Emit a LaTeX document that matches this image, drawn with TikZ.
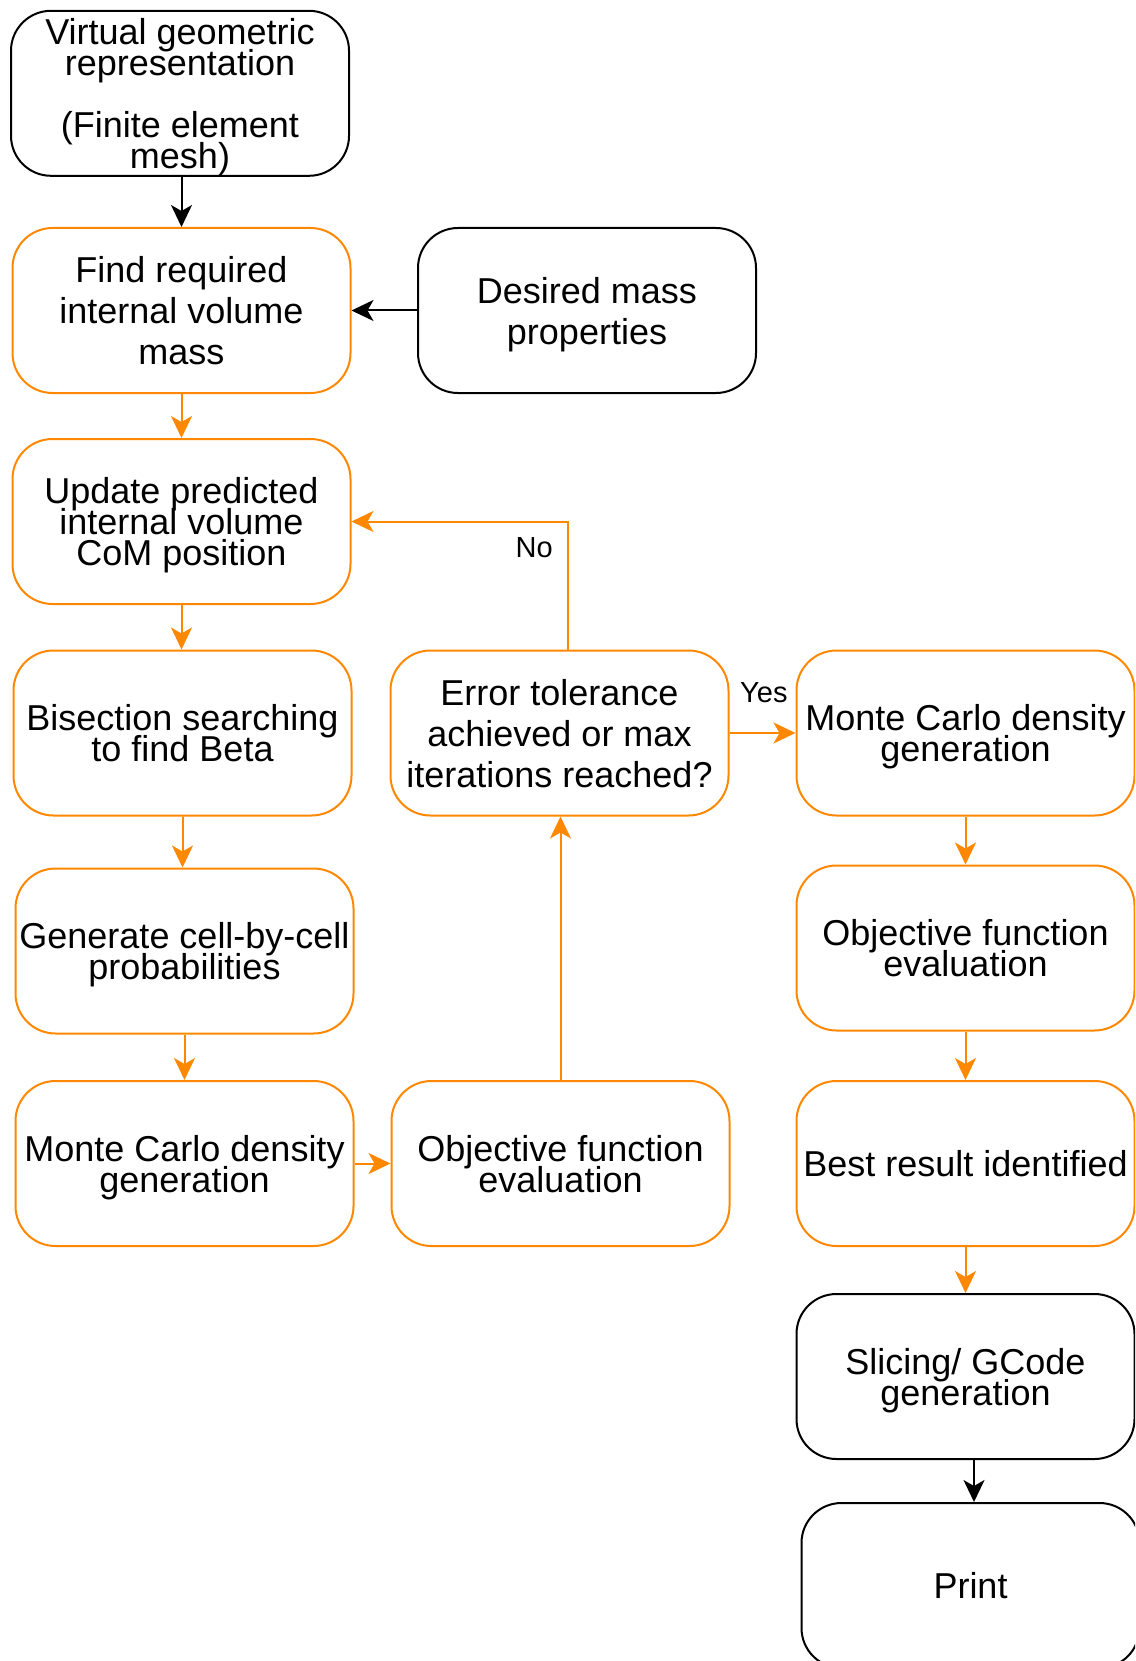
\documentclass[tikz,border=0pt]{standalone}
\usepackage{fontspec}
\setmainfont{Liberation Sans}
\usetikzlibrary{arrows.meta,calc}
\definecolor{org}{HTML}{FF8800}
\newcommand{\tightsp}{\fontsize{36}{31}\selectfont\lineskiplimit=-100pt\relax\lineskip=0pt\relax}
\newcommand{\loosesp}{\fontsize{36}{41}\selectfont\lineskiplimit=-100pt\relax\lineskip=0pt\relax}
\begin{document}
\begin{tikzpicture}[x=1pt,y=-1pt,
  box/.style={line width=2pt, rounded corners=40pt, minimum width=338pt, minimum height=165pt, inner sep=0pt, text depth=0pt, align=center, text=black},
  obox/.style={box, draw=org},
  kbox/.style={box, draw=black},
  tight/.style={font=\tightsp},
  loose/.style={font=\loosesp},
  oarr/.style={draw=org, line width=2pt, -{Stealth[length=22pt,width=21pt,inset=6pt]}},
  karr/.style={draw=black, line width=2pt, -{Stealth[length=22pt,width=21pt,inset=6pt]}},
  lbl/.style={font=\fontsize{29}{34}\selectfont, inner sep=0pt, text=black}
]
\useasboundingbox (0,0) rectangle (1135,1661);
\clip (0,0) rectangle (1135,1661);

\node[kbox, tight] (virt) at (180,93.3) {Virtual geometric\\representation\\[31pt](Finite element\\mesh)};
\node[obox, loose] (find) at (181.5,310.5) {Find required\\internal volume\\mass};
\node[kbox, loose] (desired) at (587,310.5) {Desired mass\\properties};
\node[obox, tight] (update) at (181.5,521.5) {Update predicted\\internal volume\\CoM position};
\node[obox, tight] (bisect) at (182.5,733) {Bisection searching\\to find Beta};
\node[obox, loose] (error) at (559.5,733) {Error tolerance\\achieved or max\\iterations reached?};
\node[obox, tight] (mcr) at (965.5,733) {Monte Carlo density\\generation};
\node[obox, tight] (gen) at (184.5,951) {Generate cell-by-cell\\probabilities};
\node[obox, tight] (objr) at (965.5,948) {Objective function\\evaluation};
\node[obox, tight] (mcl) at (184.5,1163.5) {Monte Carlo density\\generation};
\node[obox, tight] (objl) at (560.5,1163.5) {Objective function\\evaluation};
\node[obox, tight] (best) at (965.5,1163.5) {Best result identified};
\node[kbox, tight] (slice) at (965.5,1376.5) {Slicing/ GCode\\generation};
\node[kbox, tight] (print) at (970.5,1585.5) {Print};

\draw[karr] (find.north |- virt.south) -- (find.north);
\draw[karr] (desired.west) -- (find.east);
\draw[oarr] (find.south) -- (update.north);
\draw[oarr] (update.south) -- (update.south |- bisect.north);
\draw[oarr] (bisect.south) -- (bisect.south |- gen.north);
\draw[oarr] (gen.south) -- (mcl.north);
\draw[oarr] (mcl.east) -- (objl.west);
\draw[oarr] (objl.north) -- (objl.north |- error.south);
\draw[oarr] ([xshift=8pt]error.north) |- (update.east);
\draw[oarr] (error.east) -- (mcr.west);
\draw[oarr] (mcr.south) -- (objr.north);
\draw[oarr] (objr.south) -- (best.north);
\draw[oarr] (best.south) -- (slice.north);
\draw[karr] ([xshift=8.5pt]slice.south) -- ([xshift=3.5pt]print.north);

\node[lbl, anchor=base east] (no) at (553,557) {No};
\node[lbl, anchor=base west] (yes) at (740,702) {Yes};
\end{tikzpicture}
\end{document}
